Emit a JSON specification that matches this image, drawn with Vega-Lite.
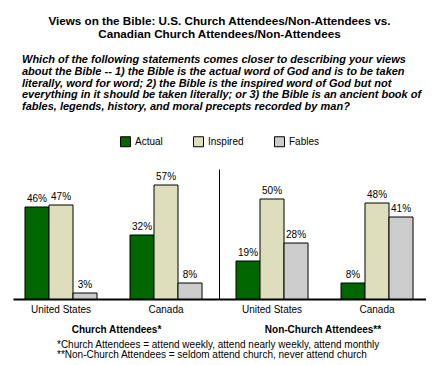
{
  "$schema": "https://vega.github.io/schema/vega-lite/v6.json",
  "padding": {"left": 13, "top": 15, "right": 0, "bottom": 0},
  "background": "white",
  "config": {
    "view": {"stroke": null},
    "font": "Liberation Sans",
    "axis": {"labelFont": "Liberation Sans", "titleFont": "Liberation Sans", "labelColor": "black", "titleColor": "black"},
    "legend": {"labelFont": "Liberation Sans", "labelColor": "black"}
  },
  "title": {
    "text": ["Views on the Bible: U.S. Church Attendees/Non-Attendees vs.", "Canadian Church Attendees/Non-Attendees"],
    "font": "Liberation Sans", "fontSize": 11.7, "fontWeight": "bold", "lineHeight": 13,
    "anchor": "middle", "color": "black", "offset": 14
  },
  "data": {
    "values": [
      {"group": "Church", "country": "United States", "view": "Actual", "value": 0.46},
      {"group": "Church", "country": "United States", "view": "Inspired", "value": 0.47},
      {"group": "Church", "country": "United States", "view": "Fables", "value": 0.03},
      {"group": "Church", "country": "Canada", "view": "Actual", "value": 0.32},
      {"group": "Church", "country": "Canada", "view": "Inspired", "value": 0.57},
      {"group": "Church", "country": "Canada", "view": "Fables", "value": 0.08},
      {"group": "NonChurch", "country": "United States", "view": "Actual", "value": 0.19},
      {"group": "NonChurch", "country": "United States", "view": "Inspired", "value": 0.50},
      {"group": "NonChurch", "country": "United States", "view": "Fables", "value": 0.28},
      {"group": "NonChurch", "country": "Canada", "view": "Actual", "value": 0.08},
      {"group": "NonChurch", "country": "Canada", "view": "Inspired", "value": 0.48},
      {"group": "NonChurch", "country": "Canada", "view": "Fables", "value": 0.41}
    ]
  },
  "vconcat": [
    {
      "title": {
        "text": [
          "Which of the following statements comes closer to describing your views",
          "about the Bible -- 1) the Bible is the actual word of God and is to be taken",
          "literally, word for word; 2) the Bible is the inspired word of God but not",
          "everything in it should be taken literally; or 3) the Bible is an ancient book of",
          "fables, legends, history, and moral precepts recorded by man?"
        ],
        "font": "Liberation Sans", "fontSize": 11, "fontWeight": "bold", "fontStyle": "italic",
        "lineHeight": 11.7, "anchor": "start", "frame": "group", "dx": 9, "color": "black", "offset": 24
      },
      "vconcat": [
        {
          "title": {
            "text": ["*Church Attendees = attend weekly, attend nearly weekly, attend monthly", "**Non-Church Attendees = seldom attend church, never attend church"],
            "orient": "bottom", "anchor": "start", "frame": "group", "dx": 44,
            "font": "Liberation Sans", "fontSize": 10, "fontWeight": "normal", "lineHeight": 10, "color": "black", "offset": 6
          },
          "bounds": "flush",
          "spacing": 0,
          "resolve": {
            "scale": {"x": "independent", "y": "independent", "color": "independent"},
            "axis": {"x": "independent", "y": "independent"},
            "legend": {"color": "independent"}
          },
          "hconcat": [
            {
              "width": 206,
              "height": 130,
              "transform": [{"filter": "datum.group === 'Church'"}],
              "encoding": {
                "x": {
                  "field": "country", "type": "nominal", "sort": ["United States", "Canada"],
                  "scale": {"paddingInner": 0.3143, "paddingOuter": 0.138, "align": 0.414},
                  "axis": {
                    "title": "Church Attendees*", "titleFontSize": 10, "titleFontWeight": "bold", "titlePadding": 10,
                    "labelAngle": 0, "labelFontSize": 10, "labelPadding": 5, "ticks": false,
                    "domainColor": "black", "domainWidth": 2, "grid": false
                  }
                },
                "xOffset": {"field": "view", "type": "nominal", "sort": ["Actual", "Inspired", "Fables"]},
                "y": {"field": "value", "type": "quantitative", "scale": {"domain": [0, 0.65]}, "axis": null}
              },
              "layer": [
                {
                  "mark": {"type": "bar", "stroke": "black", "strokeWidth": 1},
                  "encoding": {
                    "color": {
                      "field": "view", "type": "nominal",
                      "scale": {"domain": ["Actual", "Inspired", "Fables"], "range": ["#006600", "#DEDEBC", "#CCCCCC"]},
                      "legend": {
                        "orient": "none", "legendX": 107, "legendY": -33, "direction": "horizontal", "title": null,
                        "symbolType": "square", "symbolSize": 100, "symbolStrokeColor": "black", "symbolStrokeWidth": 1,
                        "symbolOpacity": 1, "labelFontSize": 10, "labelOffset": 4, "columnPadding": 28
                      }
                    }
                  }
                },
                {
                  "mark": {"type": "text", "baseline": "bottom", "dy": -3, "fontSize": 10, "font": "Liberation Sans", "color": "black"},
                  "encoding": {"text": {"field": "value", "type": "quantitative", "format": ".0%"}}
                }
              ]
            },
            {
              "width": 207,
              "height": 130,
              "transform": [{"filter": "datum.group === 'NonChurch'"}],
              "encoding": {
                "x": {
                  "field": "country", "type": "nominal", "sort": ["United States", "Canada"],
                  "scale": {"paddingInner": 0.3143, "paddingOuter": 0.1429, "align": 0.567},
                  "axis": {
                    "title": "Non-Church Attendees**", "titleFontSize": 10, "titleFontWeight": "bold", "titlePadding": 10,
                    "labelAngle": 0, "labelFontSize": 10, "labelPadding": 5, "ticks": false,
                    "domainColor": "black", "domainWidth": 2, "grid": false
                  }
                },
                "xOffset": {"field": "view", "type": "nominal", "sort": ["Actual", "Inspired", "Fables"]},
                "y": {
                  "field": "value", "type": "quantitative", "scale": {"domain": [0, 0.65]},
                  "axis": {"title": null, "labels": false, "ticks": false, "grid": false, "domain": true, "domainColor": "black", "domainWidth": 1}
                }
              },
              "layer": [
                {
                  "mark": {"type": "bar", "stroke": "black", "strokeWidth": 1},
                  "encoding": {
                    "color": {
                      "field": "view", "type": "nominal",
                      "scale": {"domain": ["Actual", "Inspired", "Fables"], "range": ["#006600", "#DEDEBC", "#CCCCCC"]},
                      "legend": null
                    }
                  }
                },
                {
                  "mark": {"type": "text", "baseline": "bottom", "dy": -3, "fontSize": 10, "font": "Liberation Sans", "color": "black"},
                  "encoding": {"text": {"field": "value", "type": "quantitative", "format": ".0%"}}
                }
              ]
            }
          ]
        }
      ]
    }
  ]
}
